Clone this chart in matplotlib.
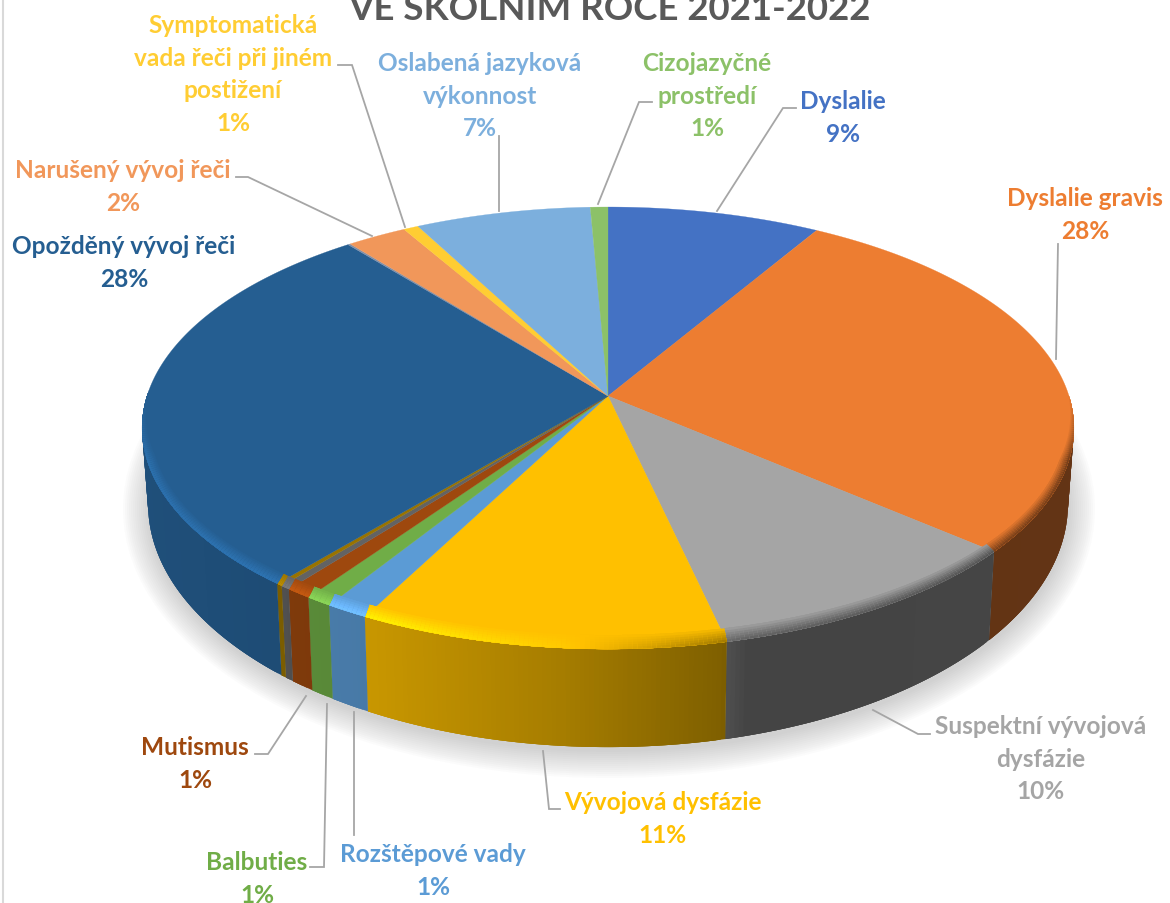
import numpy as np
import matplotlib
matplotlib.use("Agg")
import matplotlib.pyplot as plt
from matplotlib.collections import PolyCollection
from matplotlib.colors import to_rgb
from matplotlib.patches import Ellipse

plt.rcParams["font.family"] = ["Lato", "DejaVu Sans"]

# data (percent, clockwise from 12 o'clock)
categories = ["Dyslalie", "Dyslalie gravis", "Suspektní vývojová dysfázie", "Vývojová dysfázie",
              "Rozštěpové vady", "Balbuties", "Mutismus", "", "", "Opožděný vývoj řeči", "",
              "Narušený vývoj řeči", "Symptomatická vada řeči při jiném postižení",
              "Oslabená jazyková výkonnost", "Cizojazyčné prostředí"]
values = [8.5, 27.8, 10.15, 11.15, 1.3, 0.8, 0.8, 0.3, 0.2, 28.2, 0.1, 2.4, 0.6, 7.0, 0.7]
colors = ["#4472c4", "#ed7d31", "#a5a5a5", "#ffc000", "#5b9bd5", "#70ad47", "#9e480e", "#636363",
          "#997300", "#255e91", "#7f8fa9", "#f1975a", "#ffcd33", "#7cafdd", "#8cc168"]

title = "VE ŠKOLNÍM ROCE 2021-2022"

# label text, colour, centre x, first baseline y
labels = [
    ("Symptomatická\nvada řeči při jiném\npostižení\n1%", "#ffcd33", 233, 33),
    ("Oslabená jazyková\nvýkonnost\n7%", "#7cafdd", 480, 71),
    ("Cizojazyčné\nprostředí\n1%", "#8cc168", 707, 71),
    ("Dyslalie\n9%", "#4472c4", 843, 109),
    ("Dyslalie gravis\n28%", "#ed7d31", 1085, 206),
    ("Narušený vývoj řeči\n2%", "#f1975a", 123, 178),
    ("Opožděný vývoj řeči\n28%", "#255e91", 124, 254),
    ("Suspektní vývojová\ndysfázie\n10%", "#a5a5a5", 1041, 734),
    ("Vývojová dysfázie\n11%", "#ffc000", 663, 810),
    ("Rozštěpové vady\n1%", "#5b9bd5", 433, 862),
    ("Balbuties\n1%", "#70ad47", 257, 870),
    ("Mutismus\n1%", "#9e480e", 195, 755),
]
leaders = [
    ([338, 352, 405], [66, 66, 228]),
    ([236, 248, 372], [178, 178, 237]),
    ([499, 499], [137, 212]),
    ([652, 639, 598], [103, 103, 205]),
    ([796, 783, 717], [109, 109, 212]),
    ([1058, 1056], [245, 360]),
    ([930, 918, 873], [735, 735, 711]),
    ([560, 549, 543], [810, 810, 752]),
    ([255, 268, 306], [755, 755, 697]),
    ([310, 324, 327], [868, 868, 705]),
    ([354, 354], [836, 713]),
]

# geometry of the tilted pie, in pixels
APEX = (608, 397)
A, B, P = 461.0, 216.4, 0.145
TOP = (609, 429, 466, 221)
BOTTOM = (609, 505, 460, 243)


def rim(theta):
    u, v = np.sin(theta), np.cos(theta)
    d = 1 + P * v
    return APEX[0] + A * u / d, APEX[1] - B * v / d


def normed(theta):
    x, y = rim(theta)
    return (x - TOP[0]) / TOP[2], (y - TOP[1]) / TOP[3]


def shade(base, f):
    return tuple(np.clip(np.array(to_rgb(base)) * f, 0, 1))


fig = plt.figure(figsize=(11.7, 9.04), dpi=100)
ax = fig.add_axes([0, 0, 1, 1])
ax.set_xlim(0, 1170)
ax.set_ylim(904, 0)
ax.axis("off")

# soft shadow under the pie
for k in range(14):
    ax.add_patch(Ellipse((BOTTOM[0], BOTTOM[1] + 5), 2 * (BOTTOM[2] + 26 - k * 2), 2 * (BOTTOM[3] + 26 - k * 2),
                         fc="#707070", ec="none", alpha=0.025, zorder=1))

edges = np.radians(np.concatenate([[0], np.cumsum(values)]) * 3.6)
top_polys, top_cols = [], []
# each strip overlaps the next one inside a slice, so no seams show
for i, col in enumerate(colors):
    n = max(4, int(np.degrees(edges[i + 1] - edges[i]) * 2))
    th = np.linspace(edges[i], edges[i + 1], n)
    xs, ys = rim(th)
    top_polys.append(np.column_stack([np.r_[APEX[0], xs], np.r_[APEX[1], ys]]))
    top_cols.append(col)
    nx, ny = normed(th)
    for j in range(n - 1):
        e = min(j + 3, n - 1)
        mx = (nx[j] + nx[j + 1]) / 2
        my = (ny[j] + ny[j + 1]) / 2
        # side wall
        if my > -0.02:
            f = np.interp(mx, [-1, -0.5, -0.1, 0.24, 0.3, 1], [0.84, 0.78, 0.65, 0.5, 0.41, 0.42])
            ax.fill([xs[j], *xs[j + 1:e + 1], BOTTOM[0] + BOTTOM[2] * nx[e], BOTTOM[0] + BOTTOM[2] * nx[j]],
                    [ys[j], *ys[j + 1:e + 1], BOTTOM[1] + BOTTOM[3] * ny[e], BOTTOM[1] + BOTTOM[3] * ny[j]],
                    color=shade(col, f), lw=0, zorder=2)

ax.add_collection(PolyCollection(top_polys, facecolors=top_cols, edgecolors="face", linewidths=0.2, zorder=3))

# bevel on the rim of the top face, drawn from the inside out
for i, col in enumerate(colors):
    n = max(4, int(np.degrees(edges[i + 1] - edges[i]) * 2))
    th = np.linspace(edges[i], edges[i + 1], n)
    nx, ny = normed(th)
    for j in range(n - 1):
        e = min(j + 3, n - 1)
        mx = (nx[j] + nx[j + 1]) / 2
        my = (ny[j] + ny[j + 1]) / 2
        amt = np.clip((my + 0.15) / 0.3, 0, 1)
        if amt == 0:
            continue
        g = np.interp(mx, [-1, -0.5, -0.1, 0.3, 1], [1.2, 1.25, 1.05, 0.6, 0.5])
        for s in range(6):
            w = (6 - s) / 6
            px = TOP[0] + (TOP[2] - 9 * w * amt) * nx[j:e + 1]
            py = TOP[1] + (TOP[3] - 14 * w * amt) * ny[j:e + 1]
            qx = TOP[0] + TOP[2] * nx[j:e + 1]
            qy = TOP[1] + TOP[3] * ny[j:e + 1]
            ax.fill(np.r_[px, qx[::-1]], np.r_[py, qy[::-1]],
                    color=shade(col, 1 + (g - 1) * amt * (s + 1) / 6), lw=0, zorder=4)

# leader lines
for lx, ly in leaders:
    ax.plot(lx, ly, color="#a6a6a6", lw=1.3, zorder=5, solid_joinstyle="miter")

# labels, one line at a time
for text, col, x, y in labels:
    for k, line in enumerate(text.split("\n")):
        ax.text(x, y + k * 32.6, line, color=col, fontsize=17.6, fontweight="bold",
                ha="center", va="baseline", zorder=6, clip_on=True)

ax.text(609, 20, title, color="#595959", fontsize=26.4, fontweight="bold", ha="center", va="baseline", clip_on=True)

# chart border on the left
ax.plot([3, 3], [0, 904], color="#d9d9d9", lw=1.5)

fig.savefig("out.png", dpi=100)
